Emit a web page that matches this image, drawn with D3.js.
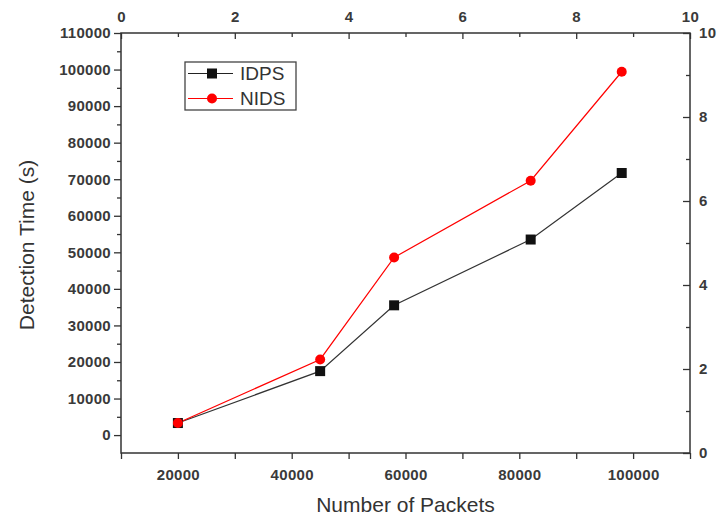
<!DOCTYPE html>
<html>
<head>
<meta charset="utf-8">
<script src="https://cdn.jsdelivr.net/npm/d3@7"></script>
<style>
  body { margin: 0; background: #fff; }
  text { font-family: "Liberation Sans", Arial, sans-serif; }
</style>
</head>
<body>
<script>
// data
const packets = [20000, 45000, 58000, 82000, 98000];
const idpsTime = [3300, 17500, 35500, 53500, 71700];
const nidsTime = [3300, 20700, 48600, 69600, 99400];
const seriesNames = ['IDPS', 'NIDS'];
const seriesColors = ['#111', '#ff0000'];

const xTickValues = [20000, 40000, 60000, 80000, 100000];
const yTickValues = [0, 10000, 20000, 30000, 40000, 50000, 60000, 70000, 80000, 90000, 100000, 110000];
const topTickValues = [0, 2, 4, 6, 8, 10];
const rightTickValues = [0, 2, 4, 6, 8, 10];

const width = 718;
const height = 517;
const plot = { left: 121, right: 690, top: 33, bottom: 453 };
const axisColor = '#333';

const svg = d3.select('body')
  .append('svg')
  .attr('width', width)
  .attr('height', height);

const xScale = d3.scaleLinear()
  .domain([10000, 110000])
  .range([plot.left, plot.right]);

const yScale = d3.scaleLinear()
  .domain([-4900, 110000])
  .range([plot.bottom, plot.top]);

const xTopScale = d3.scaleLinear()
  .domain([0, 10])
  .range([plot.left, plot.right]);

const yRightScale = d3.scaleLinear()
  .domain([0, 10])
  .range([plot.bottom, plot.top]);

function styleAxis(g) {
  g.select('.domain').remove();
  g.selectAll('line').attr('stroke', axisColor).attr('stroke-width', 1.3);
  g.selectAll('text')
    .attr('fill', '#3a3a3a')
    .style('font-size', '15px')
    .style('font-weight', '600')
    .style('letter-spacing', '0.3px');
}

// bottom axis: ticks every 10000, labels every 20000
svg.append('g')
  .attr('transform', `translate(0,${plot.bottom})`)
  .call(d3.axisBottom(xScale)
    .tickValues(d3.range(10000, 110001, 10000))
    .tickSize(6)
    .tickPadding(4)
    .tickFormat(d => xTickValues.includes(d) ? d : ''))
  .call(styleAxis)
  .call(g => g.selectAll('text').attr('dy', '1.1em'));

// left axis, minor ticks at 5000
svg.append('g')
  .attr('transform', `translate(${plot.left},0)`)
  .call(d3.axisLeft(yScale)
    .tickValues(d3.range(-5000, 110001, 5000).filter(d => d >= -4900))
    .tickSize(0)
    .tickFormat(d => yTickValues.includes(d) ? d : ''))
  .call(styleAxis)
  .call(g => g.selectAll('.tick line')
    .attr('x2', d => yTickValues.includes(d) ? -7 : -4))
  .call(g => g.selectAll('text').attr('x', -10));

// top axis, ticks point inward
svg.append('g')
  .attr('transform', `translate(0,${plot.top})`)
  .call(d3.axisTop(xTopScale)
    .tickValues(d3.range(0, 10.01, 1))
    .tickSize(0)
    .tickFormat(d => topTickValues.includes(d) ? d : ''))
  .call(styleAxis)
  .call(g => g.selectAll('.tick line')
    .attr('y2', d => topTickValues.includes(d) ? 6 : 4))
  .call(g => g.selectAll('text').attr('y', -11));

// right axis, ticks point inward
svg.append('g')
  .attr('transform', `translate(${plot.right},0)`)
  .call(d3.axisRight(yRightScale)
    .tickValues(d3.range(0, 10.01, 1))
    .tickSize(0)
    .tickFormat(d => rightTickValues.includes(d) ? d : ''))
  .call(styleAxis)
  .call(g => g.selectAll('.tick line')
    .attr('x2', d => rightTickValues.includes(d) ? -7 : -4))
  .call(g => g.selectAll('text').attr('x', 9));

// frame
svg.append('rect')
  .attr('x', plot.left)
  .attr('y', plot.top)
  .attr('width', plot.right - plot.left)
  .attr('height', plot.bottom - plot.top)
  .attr('fill', 'none')
  .attr('stroke', axisColor)
  .attr('stroke-width', 1.5);

// axis titles
svg.append('text')
  .text('Number of Packets')
  .attr('x', (plot.left + plot.right) / 2)
  .attr('y', 512)
  .attr('text-anchor', 'middle')
  .attr('fill', '#333')
  .style('font-size', '21px');

svg.append('text')
  .text('Detection Time (s)')
  .attr('transform', `translate(34,${(plot.top + plot.bottom) / 2 + 2})rotate(-90)`)
  .attr('text-anchor', 'middle')
  .attr('fill', '#333')
  .style('font-size', '21px');

// lines
const idpsData = packets.map((p, i) => [p, idpsTime[i]]);
const nidsData = packets.map((p, i) => [p, nidsTime[i]]);

const line = d3.line()
  .x(d => xScale(d[0]))
  .y(d => yScale(d[1]));

svg.append('path')
  .datum(idpsData)
  .attr('d', line)
  .attr('fill', 'none')
  .attr('stroke', '#333')
  .attr('stroke-width', 1.2);

svg.append('path')
  .datum(nidsData)
  .attr('d', line)
  .attr('fill', 'none')
  .attr('stroke', seriesColors[1])
  .attr('stroke-width', 1.2);

svg.selectAll('.idps-marker')
  .data(idpsData)
  .enter()
  .append('rect')
  .attr('class', 'idps-marker')
  .attr('x', d => xScale(d[0]) - 5)
  .attr('y', d => yScale(d[1]) - 5)
  .attr('width', 10)
  .attr('height', 10)
  .attr('fill', seriesColors[0]);

svg.selectAll('.nids-marker')
  .data(nidsData)
  .enter()
  .append('circle')
  .attr('class', 'nids-marker')
  .attr('cx', d => xScale(d[0]))
  .attr('cy', d => yScale(d[1]))
  .attr('r', 5)
  .attr('fill', seriesColors[1]);

// legend
const legend = svg.append('g').attr('transform', 'translate(185,62)');

legend.append('rect')
  .attr('width', 111)
  .attr('height', 48)
  .attr('fill', '#fff')
  .attr('stroke', '#444')
  .attr('stroke-width', 1.3);

seriesNames.forEach((name, i) => {
  const yy = 11.5 + i * 25;
  legend.append('line')
    .attr('x1', 3).attr('x2', 48)
    .attr('y1', yy).attr('y2', yy)
    .attr('stroke', i === 0 ? '#222' : seriesColors[1])
    .attr('stroke-width', 1.2);
  if (i === 0) {
    legend.append('rect')
      .attr('x', 22).attr('y', yy - 5)
      .attr('width', 10).attr('height', 10)
      .attr('fill', seriesColors[0]);
  } else {
    legend.append('circle')
      .attr('cx', 27).attr('cy', yy)
      .attr('r', 5)
      .attr('fill', seriesColors[1]);
  }
  legend.append('text')
    .text(name)
    .attr('x', 55)
    .attr('y', yy + 6.5)
    .attr('fill', '#333')
    .style('font-size', '19px');
});
</script>
</body>
</html>
